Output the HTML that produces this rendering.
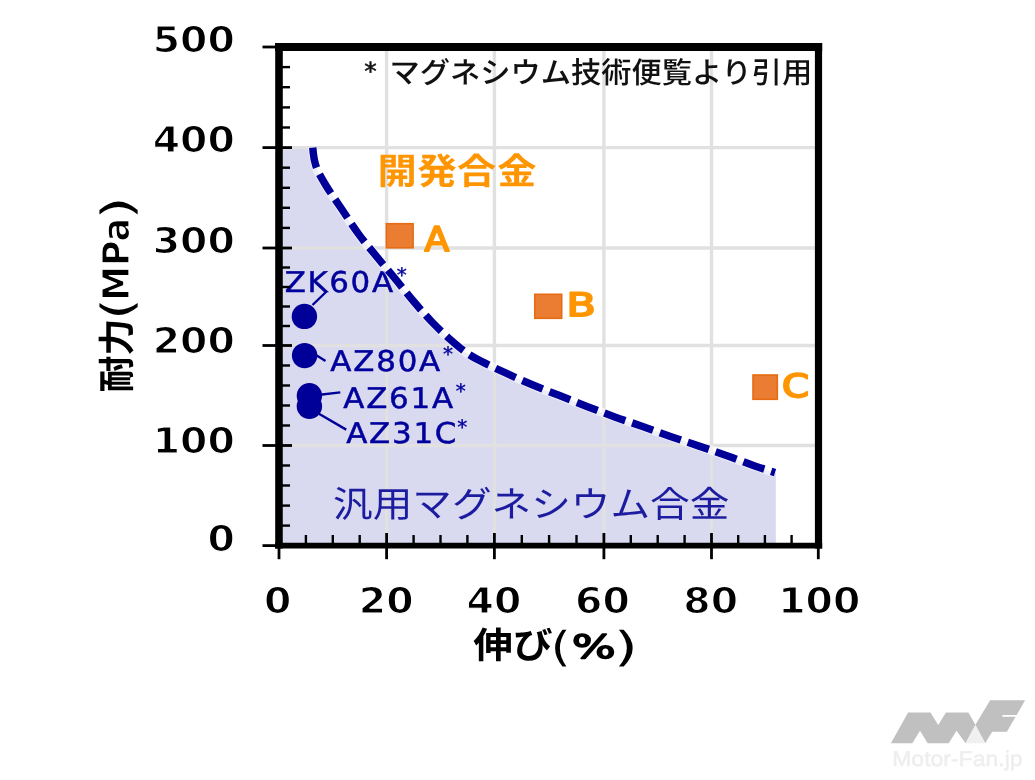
<!DOCTYPE html>
<html lang="ja"><head><meta charset="utf-8"><title>耐力と伸び</title>
<style>html,body{margin:0;padding:0;background:#fff;width:1035px;height:780px;overflow:hidden}svg{display:block;filter:blur(0.45px);text-rendering:geometricPrecision}</style>
</head><body>
<svg width="1035" height="780" viewBox="0 0 1035 780">
<rect x="0" y="0" width="1035" height="780" fill="#fff"/>
<path d="M283,146.6 L312.6,146.6  C312.97,149.40 313.05,151.03 313.30,153.00 C313.61,155.41 313.95,158.29 314.60,161.00 C315.29,163.89 316.02,166.56 317.40,169.80 C319.27,174.20 322.20,179.22 325.50,184.70 C329.81,191.85 336.08,200.66 341.50,208.75 C347.05,217.04 352.51,225.78 358.45,233.85 C364.32,241.82 370.74,249.36 376.90,256.90 C382.94,264.29 389.03,271.35 395.05,278.65 C401.10,285.98 406.98,293.61 413.10,300.80 C419.13,307.88 425.16,314.91 431.50,321.50 C437.73,327.97 444.65,334.56 450.80,340.00 C456.07,344.66 461.29,349.06 466.00,352.40 C469.74,355.05 472.10,356.42 476.55,358.85 C483.67,362.74 495.67,368.35 505.05,372.70 C514.06,376.88 522.78,380.73 531.75,384.50 C540.72,388.28 549.73,391.73 558.85,395.35 C568.11,399.03 577.55,402.80 586.90,406.40 C596.19,409.98 605.44,413.54 614.75,416.90 C624.01,420.24 633.33,423.24 642.60,426.50 C651.89,429.77 661.08,433.25 670.45,436.50 C679.93,439.79 689.67,442.88 699.15,446.10 C708.50,449.28 717.70,452.39 726.95,455.70 C736.24,459.02 746.19,463.02 754.75,466.00 C762.01,468.53 768.25,470.40 775.00,472.60 L775.8,472.6 L775.8,544 L283,544 Z" fill="#D9D9F0"/>
<line x1="386.6" y1="51" x2="386.6" y2="543" stroke="#E1E1E1" stroke-width="3.4"/>
<line x1="494.4" y1="51" x2="494.4" y2="543" stroke="#E1E1E1" stroke-width="3.4"/>
<line x1="603.9" y1="51" x2="603.9" y2="543" stroke="#E1E1E1" stroke-width="3.4"/>
<line x1="711.5" y1="51" x2="711.5" y2="543" stroke="#E1E1E1" stroke-width="3.4"/>
<line x1="283" y1="445.5" x2="815" y2="445.5" stroke="#E1E1E1" stroke-width="3.4"/>
<line x1="283" y1="345.5" x2="815" y2="345.5" stroke="#E1E1E1" stroke-width="3.4"/>
<line x1="283" y1="248.0" x2="815" y2="248.0" stroke="#E1E1E1" stroke-width="3.4"/>
<line x1="283" y1="147.6" x2="815" y2="147.6" stroke="#E1E1E1" stroke-width="3.4"/>
<rect x="386.4" y="223.7" width="26.7" height="24.1" fill="#EB7D32" stroke="#E66C12" stroke-width="1.6"/>
<rect x="534.8" y="294.3" width="26.9" height="24.0" fill="#EB7D32" stroke="#E66C12" stroke-width="1.6"/>
<rect x="753.0" y="375.0" width="24.3" height="24.3" fill="#EB7D32" stroke="#E66C12" stroke-width="1.6"/>
<line x1="312.5" y1="305.0" x2="326.5" y2="291.5" stroke="#000099" stroke-width="2.4"/>
<line x1="316.0" y1="355.0" x2="325.5" y2="361.0" stroke="#000099" stroke-width="2.4"/>
<line x1="320.0" y1="394.8" x2="340.3" y2="392.4" stroke="#000099" stroke-width="2.4"/>
<line x1="318.5" y1="413.5" x2="346.2" y2="429.6" stroke="#000099" stroke-width="2.4"/>
<circle cx="304.4" cy="316.4" r="12.7" fill="#000099"/>
<circle cx="304.6" cy="355.6" r="12.7" fill="#000099"/>
<circle cx="309.4" cy="395.8" r="12.7" fill="#000099"/>
<circle cx="309.4" cy="406.2" r="12.7" fill="#000099"/>
<text transform="translate(284.66,292.38) scale(1.080,1)" font-family="'DejaVu Sans',sans-serif" font-size="28.60" letter-spacing="1.51" fill="#00009C" stroke="#00009C" stroke-width="0.5">ZK60A</text>
<text transform="translate(330.29,370.88) scale(1.080,1)" font-family="'DejaVu Sans',sans-serif" font-size="28.60" letter-spacing="1.68" fill="#00009C" stroke="#00009C" stroke-width="0.5">AZ80A</text>
<text transform="translate(343.19,407.64) scale(1.080,1)" font-family="'DejaVu Sans',sans-serif" font-size="28.60" letter-spacing="1.68" fill="#00009C" stroke="#00009C" stroke-width="0.5">AZ61A</text>
<text transform="translate(346.19,443.33) scale(1.080,1)" font-family="'DejaVu Sans',sans-serif" font-size="28.60" letter-spacing="1.64" fill="#00009C" stroke="#00009C" stroke-width="0.5">AZ31C</text>
<text x="396.80" y="282.20" font-family="'DejaVu Sans',sans-serif" font-size="20.00" fill="#00009C" stroke="#00009C" stroke-width="0.4">*</text>
<text x="442.90" y="360.80" font-family="'DejaVu Sans',sans-serif" font-size="20.00" fill="#00009C" stroke="#00009C" stroke-width="0.4">*</text>
<text x="455.80" y="398.10" font-family="'DejaVu Sans',sans-serif" font-size="20.00" fill="#00009C" stroke="#00009C" stroke-width="0.4">*</text>
<text x="457.30" y="434.30" font-family="'DejaVu Sans',sans-serif" font-size="20.00" fill="#00009C" stroke="#00009C" stroke-width="0.4">*</text>
<path d="M312.80,147.60 C312.97,149.40 313.05,151.03 313.30,153.00 C313.61,155.41 313.95,158.29 314.60,161.00 C315.29,163.89 316.02,166.56 317.40,169.80 C319.27,174.20 322.20,179.22 325.50,184.70 C329.81,191.85 336.08,200.66 341.50,208.75 C347.05,217.04 352.51,225.78 358.45,233.85 C364.32,241.82 370.74,249.36 376.90,256.90 C382.94,264.29 389.03,271.35 395.05,278.65 C401.10,285.98 406.98,293.61 413.10,300.80 C419.13,307.88 425.16,314.91 431.50,321.50 C437.73,327.97 444.65,334.56 450.80,340.00 C456.07,344.66 461.29,349.06 466.00,352.40 C469.74,355.05 472.10,356.42 476.55,358.85 C483.67,362.74 495.67,368.35 505.05,372.70 C514.06,376.88 522.78,380.73 531.75,384.50 C540.72,388.28 549.73,391.73 558.85,395.35 C568.11,399.03 577.55,402.80 586.90,406.40 C596.19,409.98 605.44,413.54 614.75,416.90 C624.01,420.24 633.33,423.24 642.60,426.50 C651.89,429.77 661.08,433.25 670.45,436.50 C679.93,439.79 689.67,442.88 699.15,446.10 C708.50,449.28 717.70,452.39 726.95,455.70 C736.24,459.02 746.19,463.02 754.75,466.00 C762.01,468.53 768.25,470.40 775.00,472.60" fill="none" stroke="#fff" stroke-width="9.5" stroke-linejoin="round" stroke-opacity="0.55"/>
<path id="cv" d="M312.80,147.60 C312.97,149.40 313.05,151.03 313.30,153.00 C313.61,155.41 313.95,158.29 314.60,161.00 C315.29,163.89 316.02,166.56 317.40,169.80 C319.27,174.20 322.20,179.22 325.50,184.70 C329.81,191.85 336.08,200.66 341.50,208.75 C347.05,217.04 352.51,225.78 358.45,233.85 C364.32,241.82 370.74,249.36 376.90,256.90 C382.94,264.29 389.03,271.35 395.05,278.65 C401.10,285.98 406.98,293.61 413.10,300.80 C419.13,307.88 425.16,314.91 431.50,321.50 C437.73,327.97 444.65,334.56 450.80,340.00 C456.07,344.66 461.29,349.06 466.00,352.40 C469.74,355.05 472.10,356.42 476.55,358.85 C483.67,362.74 495.67,368.35 505.05,372.70 C514.06,376.88 522.78,380.73 531.75,384.50 C540.72,388.28 549.73,391.73 558.85,395.35 C568.11,399.03 577.55,402.80 586.90,406.40 C596.19,409.98 605.44,413.54 614.75,416.90 C624.01,420.24 633.33,423.24 642.60,426.50 C651.89,429.77 661.08,433.25 670.45,436.50 C679.93,439.79 689.67,442.88 699.15,446.10 C708.50,449.28 717.70,452.39 726.95,455.70 C736.24,459.02 746.19,463.02 754.75,466.00 C762.01,468.53 768.25,470.40 775.00,472.60" fill="none" stroke="#000099" stroke-width="7.5" stroke-dasharray="22.2 7.25" stroke-dashoffset="1.6"/>
<line x1="279" y1="43" x2="279" y2="548.6" stroke="#000" stroke-width="7.6"/>
<line x1="275" y1="545.7" x2="822.2" y2="545.7" stroke="#000" stroke-width="5.8"/>
<line x1="275" y1="47" x2="822.2" y2="47" stroke="#000" stroke-width="8"/>
<line x1="818.5" y1="43" x2="818.5" y2="548.6" stroke="#000" stroke-width="7.2"/>
<line x1="262.5" y1="545.6" x2="283" y2="545.6" stroke="#000" stroke-width="2.8"/>
<line x1="262.5" y1="445.5" x2="292" y2="445.5" stroke="#000" stroke-width="2.8"/>
<line x1="262.5" y1="345.5" x2="292" y2="345.5" stroke="#000" stroke-width="2.8"/>
<line x1="262.5" y1="248.0" x2="292" y2="248.0" stroke="#000" stroke-width="2.8"/>
<line x1="262.5" y1="147.6" x2="292" y2="147.6" stroke="#000" stroke-width="2.8"/>
<line x1="262.5" y1="47.0" x2="283" y2="47.0" stroke="#000" stroke-width="2.8"/>
<line x1="282" y1="525.6" x2="290" y2="525.6" stroke="#000" stroke-width="2.4"/>
<line x1="282" y1="505.6" x2="290" y2="505.6" stroke="#000" stroke-width="2.4"/>
<line x1="282" y1="485.5" x2="290" y2="485.5" stroke="#000" stroke-width="2.4"/>
<line x1="282" y1="465.5" x2="290" y2="465.5" stroke="#000" stroke-width="2.4"/>
<line x1="282" y1="425.5" x2="290" y2="425.5" stroke="#000" stroke-width="2.4"/>
<line x1="282" y1="405.5" x2="290" y2="405.5" stroke="#000" stroke-width="2.4"/>
<line x1="282" y1="385.5" x2="290" y2="385.5" stroke="#000" stroke-width="2.4"/>
<line x1="282" y1="365.5" x2="290" y2="365.5" stroke="#000" stroke-width="2.4"/>
<line x1="282" y1="326.0" x2="290" y2="326.0" stroke="#000" stroke-width="2.4"/>
<line x1="282" y1="306.5" x2="290" y2="306.5" stroke="#000" stroke-width="2.4"/>
<line x1="282" y1="287.0" x2="290" y2="287.0" stroke="#000" stroke-width="2.4"/>
<line x1="282" y1="267.5" x2="290" y2="267.5" stroke="#000" stroke-width="2.4"/>
<line x1="282" y1="227.9" x2="290" y2="227.9" stroke="#000" stroke-width="2.4"/>
<line x1="282" y1="207.8" x2="290" y2="207.8" stroke="#000" stroke-width="2.4"/>
<line x1="282" y1="187.8" x2="290" y2="187.8" stroke="#000" stroke-width="2.4"/>
<line x1="282" y1="167.7" x2="290" y2="167.7" stroke="#000" stroke-width="2.4"/>
<line x1="282" y1="127.5" x2="290" y2="127.5" stroke="#000" stroke-width="2.4"/>
<line x1="282" y1="107.4" x2="290" y2="107.4" stroke="#000" stroke-width="2.4"/>
<line x1="282" y1="87.2" x2="290" y2="87.2" stroke="#000" stroke-width="2.4"/>
<line x1="282" y1="67.1" x2="290" y2="67.1" stroke="#000" stroke-width="2.4"/>
<line x1="279.0" y1="548" x2="279.0" y2="559.2" stroke="#000" stroke-width="2.8"/>
<line x1="386.6" y1="533" x2="386.6" y2="559.2" stroke="#000" stroke-width="2.8"/>
<line x1="494.4" y1="533" x2="494.4" y2="559.2" stroke="#000" stroke-width="2.8"/>
<line x1="603.9" y1="533" x2="603.9" y2="559.2" stroke="#000" stroke-width="2.8"/>
<line x1="711.5" y1="533" x2="711.5" y2="559.2" stroke="#000" stroke-width="2.8"/>
<line x1="818.3" y1="548" x2="818.3" y2="559.2" stroke="#000" stroke-width="2.8"/>
<line x1="305.9" y1="535" x2="305.9" y2="543.5" stroke="#000" stroke-width="2.4"/>
<line x1="332.8" y1="535" x2="332.8" y2="543.5" stroke="#000" stroke-width="2.4"/>
<line x1="359.7" y1="535" x2="359.7" y2="543.5" stroke="#000" stroke-width="2.4"/>
<line x1="413.6" y1="535" x2="413.6" y2="543.5" stroke="#000" stroke-width="2.4"/>
<line x1="440.5" y1="535" x2="440.5" y2="543.5" stroke="#000" stroke-width="2.4"/>
<line x1="467.4" y1="535" x2="467.4" y2="543.5" stroke="#000" stroke-width="2.4"/>
<line x1="521.8" y1="535" x2="521.8" y2="543.5" stroke="#000" stroke-width="2.4"/>
<line x1="549.1" y1="535" x2="549.1" y2="543.5" stroke="#000" stroke-width="2.4"/>
<line x1="576.5" y1="535" x2="576.5" y2="543.5" stroke="#000" stroke-width="2.4"/>
<line x1="630.8" y1="535" x2="630.8" y2="543.5" stroke="#000" stroke-width="2.4"/>
<line x1="657.7" y1="535" x2="657.7" y2="543.5" stroke="#000" stroke-width="2.4"/>
<line x1="684.6" y1="535" x2="684.6" y2="543.5" stroke="#000" stroke-width="2.4"/>
<line x1="738.2" y1="535" x2="738.2" y2="543.5" stroke="#000" stroke-width="2.4"/>
<line x1="764.9" y1="535" x2="764.9" y2="543.5" stroke="#000" stroke-width="2.4"/>
<line x1="791.6" y1="535" x2="791.6" y2="543.5" stroke="#000" stroke-width="2.4"/>
<text transform="translate(152.69,52.49) scale(1.0994,1)" font-family="'DejaVu Sans',sans-serif" font-weight="bold" font-size="35.79" fill="#000" stroke="#fff" stroke-width="1.20" stroke-linejoin="round">500</text>
<text transform="translate(152.69,152.49) scale(1.0994,1)" font-family="'DejaVu Sans',sans-serif" font-weight="bold" font-size="35.79" fill="#000" stroke="#fff" stroke-width="1.20" stroke-linejoin="round">400</text>
<text transform="translate(152.69,252.94) scale(1.0994,1)" font-family="'DejaVu Sans',sans-serif" font-weight="bold" font-size="35.79" fill="#000" stroke="#fff" stroke-width="1.20" stroke-linejoin="round">300</text>
<text transform="translate(152.69,353.14) scale(1.0994,1)" font-family="'DejaVu Sans',sans-serif" font-weight="bold" font-size="35.79" fill="#000" stroke="#fff" stroke-width="1.20" stroke-linejoin="round">200</text>
<text transform="translate(152.69,453.14) scale(1.0994,1)" font-family="'DejaVu Sans',sans-serif" font-weight="bold" font-size="35.79" fill="#000" stroke="#fff" stroke-width="1.20" stroke-linejoin="round">100</text>
<text transform="translate(207.38,551.39) scale(1.0994,1)" font-family="'DejaVu Sans',sans-serif" font-weight="bold" font-size="35.79" fill="#000" stroke="#fff" stroke-width="1.20" stroke-linejoin="round">0</text>
<text transform="translate(263.88,612.84) scale(1.0994,1)" font-family="'DejaVu Sans',sans-serif" font-weight="bold" font-size="35.79" fill="#000" stroke="#fff" stroke-width="1.20" stroke-linejoin="round">0</text>
<text transform="translate(358.76,612.84) scale(1.0994,1)" font-family="'DejaVu Sans',sans-serif" font-weight="bold" font-size="35.79" fill="#000" stroke="#fff" stroke-width="1.20" stroke-linejoin="round">20</text>
<text transform="translate(466.55,612.84) scale(1.0994,1)" font-family="'DejaVu Sans',sans-serif" font-weight="bold" font-size="35.79" fill="#000" stroke="#fff" stroke-width="1.20" stroke-linejoin="round">40</text>
<text transform="translate(575.06,612.84) scale(1.0994,1)" font-family="'DejaVu Sans',sans-serif" font-weight="bold" font-size="35.79" fill="#000" stroke="#fff" stroke-width="1.20" stroke-linejoin="round">60</text>
<text transform="translate(683.31,612.84) scale(1.0994,1)" font-family="'DejaVu Sans',sans-serif" font-weight="bold" font-size="35.79" fill="#000" stroke="#fff" stroke-width="1.20" stroke-linejoin="round">80</text>
<text transform="translate(778.20,612.84) scale(1.0994,1)" font-family="'DejaVu Sans',sans-serif" font-weight="bold" font-size="35.79" fill="#000" stroke="#fff" stroke-width="1.20" stroke-linejoin="round">100</text>
<text transform="translate(473.30,658.30) scale(1.100,1)" font-family="'Liberation Sans','Noto Sans CJK JP',sans-serif" font-size="36.00" fill="#000" font-weight="bold">伸び</text>
<text transform="translate(550.86,661.14) scale(1.2236,1)" font-family="'DejaVu Sans',sans-serif" font-size="41.24" fill="#000">(</text>
<text transform="translate(571.80,657.63) scale(1.4368,1)" font-family="'DejaVu Sans',sans-serif" font-size="32.24" fill="#000" stroke="#000" stroke-width="1.50" stroke-linejoin="round">%</text>
<text transform="translate(614.09,661.14) scale(1.4881,1)" font-family="'DejaVu Sans',sans-serif" font-size="41.24" fill="#000">)</text>
<g transform="translate(129.9,392.6) rotate(-90)"><text x="0" y="0" font-family="'Liberation Sans','Noto Sans CJK JP',sans-serif" font-weight="bold" font-size="37" fill="#000">耐力</text></g>
<g transform="translate(0,0) rotate(-90)">
<text transform="translate(-319.53,131.92) scale(1.2496,1)" font-family="'DejaVu Sans',sans-serif" font-size="42.92" fill="#000">(</text>
<text transform="translate(-300.80,129.03) scale(0.9391,1)" font-family="'DejaVu Sans',sans-serif" font-weight="bold" font-size="37.16" fill="#000" stroke="#fff" stroke-width="1.20" stroke-linejoin="round">MPa</text>
<text transform="translate(-219.08,131.92) scale(1.3344,1)" font-family="'DejaVu Sans',sans-serif" font-size="42.92" fill="#000">)</text>
</g>
<text x="364.15" y="79.67" font-family="'DejaVu Sans',sans-serif" font-size="25.00" fill="#111" stroke="#111" stroke-width="0.5">*</text>
<text transform="translate(389.50,83.10) scale(1.025,1)" font-family="'Liberation Sans','Noto Sans CJK JP',sans-serif" font-size="29.50" fill="#111" font-weight="500">マグネシウム技術便覧より引用</text>
<text transform="translate(377.58,184.30) scale(1.090,1)" font-family="'Liberation Sans','Noto Sans CJK JP',sans-serif" font-size="36.00" fill="#FF9500" font-weight="bold">開</text>
<text transform="translate(417.58,184.30) scale(1.090,1)" font-family="'Liberation Sans','Noto Sans CJK JP',sans-serif" font-size="36.00" fill="#FF9500" font-weight="bold">発</text>
<text transform="translate(457.08,184.30) scale(1.090,1)" font-family="'Liberation Sans','Noto Sans CJK JP',sans-serif" font-size="36.00" fill="#FF9500" font-weight="bold">合</text>
<text transform="translate(497.13,184.30) scale(1.090,1)" font-family="'Liberation Sans','Noto Sans CJK JP',sans-serif" font-size="36.00" fill="#FF9500" font-weight="bold">金</text>
<text transform="translate(424.45,250.59) scale(1.0633,1)" font-family="'DejaVu Sans',sans-serif" font-size="34.03" fill="#FF9500" stroke="#FF9500" stroke-width="1.90" stroke-linejoin="round">A</text>
<text transform="translate(566.59,315.55) scale(1.3111,1)" font-family="'DejaVu Sans',sans-serif" font-size="32.47" fill="#FF9500" stroke="#FF9500" stroke-width="1.90" stroke-linejoin="round">B</text>
<text transform="translate(782.12,396.53) scale(1.1992,1)" font-family="'DejaVu Sans',sans-serif" font-size="32.24" fill="#FF9500" stroke="#FF9500" stroke-width="1.90" stroke-linejoin="round">C</text>
<text transform="translate(333.10,517.20) scale(1.104,1)" font-family="'Liberation Sans','Noto Sans CJK JP',sans-serif" font-size="35.90" fill="#1C1CA0">汎用マグネシウム合金</text>
<polygon points="890.9,743.3 908.1,712.5 930.5,712.5 938.2,725.1 945.9,712.5 968.4,712.5 975.4,724.7 990.1,700.3 1025.1,700.3 1016.7,714.9 1002.4,714.9 1002.4,716.7 1015.6,716.7 1006.9,731.7 992.2,731.7 985.2,743.3 975.4,725.1 965.6,743.3 956.5,730.7 948.7,743.3 927.7,743.3 920.0,730.7 912.3,743.3" fill="#C0C0C0"/>
<polygon points="965.6,743.3 975.4,725.1 985.2,743.3" fill="#F0F0F0"/>
<text transform="translate(892.16,766.0) scale(1.076,1)" font-family="'Liberation Sans',sans-serif" font-size="21.4" fill="#EEEEEE" stroke="#EEEEEE" stroke-width="0.5">Motor-Fan.jp</text>
</svg>
</body></html>
